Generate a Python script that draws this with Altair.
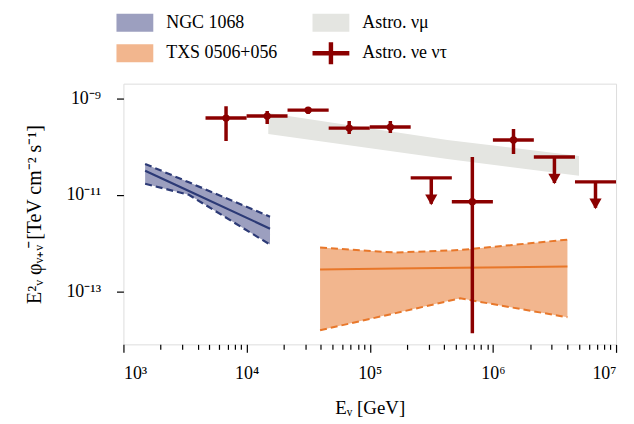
import altair as alt
import pandas as pd

FONT = "Liberation Serif"

# ---------------- data ----------------
# NGC 1068 band
ngc_E = [1.5e3, 3.4e3, 1.55e4]
ngc_up = [4.36e-11, 1.81e-11, 3.52e-12]
ngc_mid = [3.13e-11, 1.20e-11, 1.99e-12]
ngc_lo = [1.69e-11, 1.00e-11, 9.3e-13]

# TXS 0506+056 band
txs_E = [3.95e4, 1.62e5, 5.42e5, 4.03e6]
txs_up = [8.07e-13, 6.37e-13, 7.18e-13, 1.18e-12]
txs_mid = [2.84e-13, 2.97e-13, 3.08e-13, 3.27e-13]
txs_lo = [1.57e-14, 3.55e-14, 7.18e-14, 2.91e-14]

# Astro nu_mu band
mu_E = [1.5e4, 4.27e5, 5.0e6]
mu_up = [4.91e-10, 1.36e-10, 6.37e-11]
mu_lo = [1.81e-10, 5.52e-11, 2.47e-11]

# Astro nu_e nu_tau segmented spectrum
bin_lo = [4.64e3, 1.0e4, 2.15e4, 4.64e4, 1.0e5, 2.15e5, 4.64e5, 1.0e6, 2.15e6, 4.64e6]
bin_hi = [1.0e4, 2.15e4, 4.64e4, 1.0e5, 2.15e5, 4.64e5, 1.0e6, 2.15e6, 4.64e6, 1.0e7]
bin_c = [6.81e3, 1.47e4, 3.16e4, 6.81e4, 1.47e5, 3.16e5, 6.81e5, 1.47e6, 3.16e6, 6.81e6]
flux = [3.87e-10, 4.26e-10, 5.66e-10, 2.40e-10, 2.52e-10, 2.24e-11, 7.18e-12, 1.36e-10, 6.08e-11, 1.85e-11]
err_lo = [1.30e-10, 2.91e-10, 4.68e-10, 1.81e-10, 1.90e-10, None, 1.36e-14, 7.0e-11, None, None]
err_hi = [6.84e-10, 5.40e-10, 6.52e-10, 3.36e-10, 3.36e-10, None, 6.08e-11, 2.30e-10, None, None]
is_ul = [False, False, False, False, False, True, False, False, True, True]

# legend
leg_names = ["NGC 1068", "TXS 0506+056", "Astro. νμ", "Astro. νe ντ"]
leg_colors = ["#9c9fbf", "#f2b68e", "#e4e5e1", "#8b0000"]

x_major = [1000, 10000, 100000, 1000000, 10000000]
x_major_labels = ["10³", "10⁴", "10⁵", "10⁶", "10⁷"]
x_ticks = [m * 10 ** k for k in range(3, 7) for m in range(1, 10)] + [10 ** 7]
y_ticks = [1e-13, 1e-11, 1e-9]

# ---------------- frames ----------------
ngc = pd.DataFrame({"E": ngc_E, "up": ngc_up, "mid": ngc_mid, "lo": ngc_lo})
txs = pd.DataFrame({"E": txs_E, "up": txs_up, "mid": txs_mid, "lo": txs_lo})
mu = pd.DataFrame({"E": mu_E, "up": mu_up, "lo": mu_lo})
seg = pd.DataFrame({"lo_E": bin_lo, "hi_E": bin_hi, "E": bin_c, "f": flux,
                    "elo": err_lo, "ehi": err_hi, "ul": is_ul})
seg["tip"] = seg["f"] * 0.29
pts = seg[~seg["ul"]]
uls = seg[seg["ul"]]
leg = pd.DataFrame({"series": leg_names})

xsc = alt.Scale(type="log", domain=[1e3, 1e7], nice=False)
ysc = alt.Scale(type="log", domain=[8e-15, 2e-9], nice=False)

label_map = "{" + ",".join(f"'{v}':'{t}'" for v, t in zip(x_major, x_major_labels)) + "}"
xaxis = alt.Axis(
    values=x_ticks, title="Eᵥ [GeV]", grid=False, domain=False,
    labelExpr=f"{label_map}[''+datum.value] || ''",
    tickSize={"condition": {"test": f"indexof({x_major}, datum.value) >= 0", "value": 8}, "value": 5},
    tickColor="black", tickWidth=1.2, labelPadding=12, titlePadding=16,
    labelFont=FONT, labelFontSize=18, titleFont=FONT, titleFontSize=19,
    titleFontWeight="normal", labelColor="black", titleColor="black",
)
yaxis = alt.Axis(
    values=y_ticks, title="E²ᵥ φᵥ₊ᵥ̄  [TeV cm⁻² s⁻¹]", grid=False, domain=False,
    labelExpr="datum.value < 1e-12 ? '10⁻¹³' : (datum.value < 1e-10 ? '10⁻¹¹' : '10⁻⁹')",
    tickSize=7, tickColor="black", tickWidth=1.2, labelPadding=16, titlePadding=22,
    labelFont=FONT, labelFontSize=18, titleFont=FONT, titleFontSize=20,
    titleFontWeight="normal", labelColor="black", titleColor="black",
)

X = lambda f: alt.X(f, type="quantitative", scale=xsc, axis=xaxis)
Y = lambda f: alt.Y(f, type="quantitative", scale=ysc, axis=yaxis)

mu_band = alt.Chart(mu).mark_area(color="#e4e5e1", clip=True).encode(
    x=X("E"), y=Y("up"), y2="lo")

NAVY = "#2c3a76"
ngc_band = alt.Chart(ngc).mark_area(color="#9c9fbf", clip=True).encode(
    x=X("E"), y=Y("up"), y2="lo")
ngc_mid_l = alt.Chart(ngc).mark_line(color=NAVY, strokeWidth=2.2, clip=True).encode(x=X("E"), y=Y("mid"))
ngc_up_l = alt.Chart(ngc).mark_line(color=NAVY, strokeWidth=2.2, strokeDash=[7, 4], clip=True).encode(x=X("E"), y=Y("up"))
ngc_lo_l = alt.Chart(ngc).mark_line(color=NAVY, strokeWidth=2.2, strokeDash=[7, 4], clip=True).encode(x=X("E"), y=Y("lo"))

ORANGE = "#e8772a"
txs_band = alt.Chart(txs).mark_area(color="#f2b68e", clip=True).encode(
    x=X("E"), y=Y("up"), y2="lo")
txs_mid_l = alt.Chart(txs).mark_line(color=ORANGE, strokeWidth=2, clip=True).encode(x=X("E"), y=Y("mid"))
txs_up_l = alt.Chart(txs).mark_line(color=ORANGE, strokeWidth=2, strokeDash=[7, 4], clip=True).encode(x=X("E"), y=Y("up"))
txs_lo_l = alt.Chart(txs).mark_line(color=ORANGE, strokeWidth=2, strokeDash=[7, 4], clip=True).encode(x=X("E"), y=Y("lo"))

RED = "#8b0000"
hbars = alt.Chart(seg).mark_rule(color=RED, strokeWidth=3.5, clip=True).encode(
    x=X("lo_E"), x2="hi_E", y=Y("f"))
vbars = alt.Chart(pts).mark_rule(color=RED, strokeWidth=3.5, clip=True).encode(
    x=X("E"), y=Y("elo"), y2="ehi")
dots = alt.Chart(pts).mark_circle(color=RED, size=55, opacity=1, clip=True).encode(
    x=X("E"), y=Y("f"))
ul_bars = alt.Chart(uls).mark_rule(color=RED, strokeWidth=3.5, clip=True).encode(
    x=X("E"), y=Y("f"), y2="tip")
ul_heads = alt.Chart(uls).mark_point(color=RED, shape="triangle-down", filled=True, size=150,
                                     opacity=1, yOffset=-4, clip=True).encode(
    x=X("E"), y=Y("tip"))

rect_path = "M-1,-0.486H1V0.486H-1Z"
cross_path = "M-1,-0.12H-0.12V-0.6H0.12V-0.12H1V0.12H0.12V0.6H-0.12V0.12H-1Z"
leg_opts = dict(title=None, orient="none", legendX=-7, legendY=-80,
                columns=2, columnPadding=35, rowPadding=3,
                symbolSize=1369, symbolStrokeWidth=0,
                labelFont=FONT, labelFontSize=18, labelOffset=13,
                labelColor="black", padding=0)
legend_layer = alt.Chart(leg).mark_point(filled=True, opacity=1).encode(
    color=alt.Color("series:N", scale=alt.Scale(domain=leg_names, range=leg_colors),
                    legend=alt.Legend(**leg_opts)),
    shape=alt.Shape("series:N", scale=alt.Scale(domain=leg_names,
                                                range=[rect_path, rect_path, rect_path, cross_path]),
                    legend=alt.Legend(**leg_opts)),
).transform_filter("false")

chart = alt.layer(
    mu_band, ngc_band, ngc_up_l, ngc_lo_l, ngc_mid_l,
    txs_band, txs_up_l, txs_lo_l, txs_mid_l,
    hbars, vbars, dots, ul_bars, ul_heads, legend_layer,
).properties(
    width=495, height=262,
    autosize="none",
    padding={"left": 116, "top": 75, "right": 10, "bottom": 78},
).configure_view(
    stroke="black", strokeWidth=1.8
).configure(background="white")

chart.save("out.html", embed_options={"renderer": "svg", "actions": False})
